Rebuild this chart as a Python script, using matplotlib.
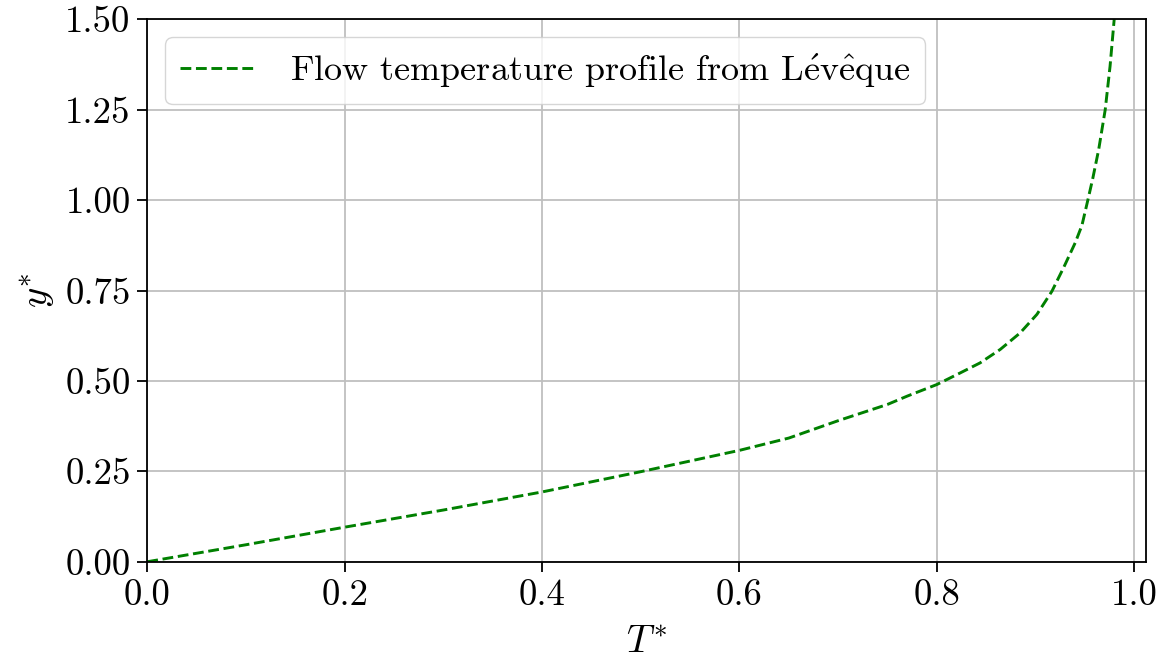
import matplotlib
matplotlib.use("Agg")
import matplotlib.pyplot as plt

plt.rcParams['font.family'] = 'serif'
plt.rcParams['font.serif'] = ['cmr10']
plt.rcParams['mathtext.fontset'] = 'cm'
plt.rcParams['axes.formatter.use_mathtext'] = True

# values
t_star = [0.0, 0.1, 0.2, 0.3, 0.4, 0.5, 0.6, 0.65, 0.7, 0.75, 0.77, 0.8,
          0.8236, 0.8439, 0.8642, 0.8845, 0.9014, 0.9166, 0.9284, 0.9402,
          0.947, 0.953, 0.958, 0.964, 0.9706, 0.9755, 0.9797]
y_star = [0.0, 0.047, 0.0956, 0.143, 0.193, 0.249, 0.308, 0.342, 0.39, 0.435,
          0.458, 0.49, 0.522, 0.55, 0.587, 0.633, 0.684, 0.748, 0.813, 0.882,
          0.93, 1.0, 1.06, 1.14, 1.25, 1.37, 1.5]
label = r"Flow temperature profile from L$\mathrm{\acute{e}}$v$\mathrm{\hat{e}}$que"

fig = plt.figure(figsize=(11.6, 6.64), dpi=100)
ax = fig.add_axes([0.127, 0.154, 0.861, 0.817])
ax.plot(t_star, y_star, color="green", linestyle="--", linewidth=2.1, label=label)

ax.set_xlim(0, 1.012)
ax.set_ylim(0, 1.5)
ax.set_xticks([0.0, 0.2, 0.4, 0.6, 0.8, 1.0])
ax.set_yticks([0.0, 0.25, 0.5, 0.75, 1.0, 1.25, 1.5])
ax.set_yticklabels(["0.00", "0.25", "0.50", "0.75", "1.00", "1.25", "1.50"])
ax.set_xticklabels(["0.0", "0.2", "0.4", "0.6", "0.8", "1.0"])
ax.tick_params(labelsize=26.5, width=1.3, length=7, pad=5)
ax.grid(True, color="#bfbfbf", linewidth=1.3)
for s in ax.spines.values():
    s.set_linewidth(1.3)

ax.set_xlabel(r"$T^{*}$", fontsize=28, labelpad=10)
ax.set_ylabel(r"$y^{*}$", fontsize=28, labelpad=6)
ax.legend(loc="upper left", fontsize=26, framealpha=0.8, edgecolor="#cccccc",
          handlelength=2.1, handletextpad=0.95)

plt.savefig("out.png")
